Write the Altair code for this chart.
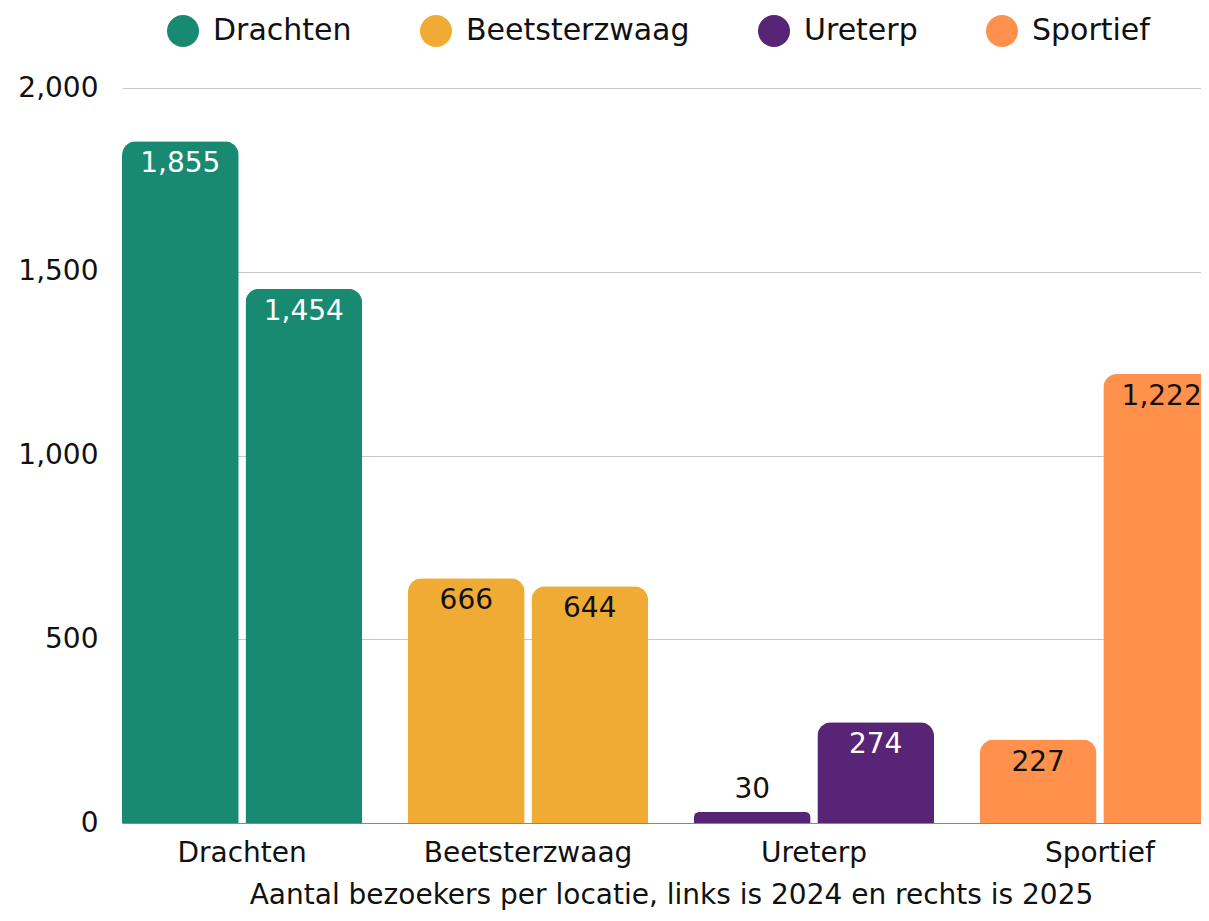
import altair as alt
import pandas as pd

locations = ["Drachten", "Beetsterzwaag", "Ureterp", "Sportief"]
years = ["2024", "2025"]
values_2024 = [1855, 666, 30, 227]
values_2025 = [1454, 644, 274, 1222]
loc_colors = ["#188a72", "#efab34", "#582475", "#ff914c"]
y_ticks = [0, 500, 1000, 1500, 2000]

rows = []
for i, loc in enumerate(locations):
    rows.append({"loc": loc, "year": "2024", "value": values_2024[i]})
    rows.append({"loc": loc, "year": "2025", "value": values_2025[i]})
df = pd.DataFrame(rows)

FONT = "DejaVu Sans"

x_enc = alt.X(
    "loc:N",
    sort=locations,
    scale=alt.Scale(range=[0, 1098], paddingInner=0.16, paddingOuter=0),
    axis=alt.Axis(
        title="Aantal bezoekers per locatie, links is 2024 en rechts is 2025",
        labelAngle=0,
        ticks=False,
        tickSize=0,
        labelPadding=16,
        labelFontSize=28,
        labelLimit=400,
        titleFontSize=28,
        titleFontWeight="normal",
        titlePadding=14,
        titleX=549,
        titleLimit=1200,
        domainColor="#888888",
        domainWidth=1.2,
        labelColor="#111111",
        titleColor="#111111",
    ),
)
xoff = alt.XOffset("year:N", sort=years, scale=alt.Scale(paddingInner=0.055))
y_enc = alt.Y(
    "value:Q",
    scale=alt.Scale(domain=[0, 2000]),
    axis=alt.Axis(
        title=None,
        values=y_ticks,
        format=",.0f",
        domain=False,
        ticks=False,
        tickSize=0,
        labelPadding=24,
        labelFontSize=28,
        labelLimit=400,
        labelColor="#111111",
        gridColor="#c8c8c8",
        gridWidth=1,
    ),
)

base = alt.Chart(df)

bars = base.mark_bar(cornerRadiusTopLeft=14, cornerRadiusTopRight=14).encode(
    x=x_enc,
    xOffset=xoff,
    y=y_enc,
    color=alt.Color(
        "loc:N",
        sort=locations,
        scale=alt.Scale(domain=locations, range=loc_colors),
        legend=alt.Legend(
            title=None,
            orient="none",
            direction="horizontal",
            legendX=45,
            legendY=-73,
            symbolType="circle",
            symbolSize=1024,
            symbolStrokeWidth=0,
            labelFontSize=30,
            labelLimit=400,
            labelColor="#111111",
            labelOffset=14,
            columnPadding=68,
            padding=0,
        ),
    ),
)

text_inside = base.transform_filter("datum.value >= 100").transform_calculate(
    tc="(datum.loc == 'Drachten' || datum.loc == 'Ureterp') ? 'white' : '#111111'"
).mark_text(baseline="middle", dy=23, fontSize=28, font=FONT).encode(
    x=alt.X("loc:N", sort=locations),
    xOffset=alt.XOffset("year:N", sort=years),
    y=alt.Y("value:Q"),
    text=alt.Text("value:Q", format=","),
    color=alt.Color("tc:N", scale=None),
)

text_above = base.transform_filter("datum.value < 100").mark_text(
    baseline="middle", dy=-22, fontSize=28, font=FONT, color="#111111"
).encode(
    x=alt.X("loc:N", sort=locations),
    xOffset=alt.XOffset("year:N", sort=years),
    y=alt.Y("value:Q"),
    text=alt.Text("value:Q", format=","),
)

chart = (
    alt.layer(bars, text_inside, text_above)
    .properties(
        width=1079,
        height=735,
        autosize=alt.AutoSizeParams(type="none"),
        padding={"left": 114, "top": 80, "right": 0, "bottom": 90},
    )
    .configure(font=FONT)
    .configure_view(stroke=None)
    .configure_axis(labelFont=FONT, titleFont=FONT)
    .configure_legend(labelFont=FONT)
)

chart.save("out.html", embed_options={"renderer": "svg", "actions": False})
